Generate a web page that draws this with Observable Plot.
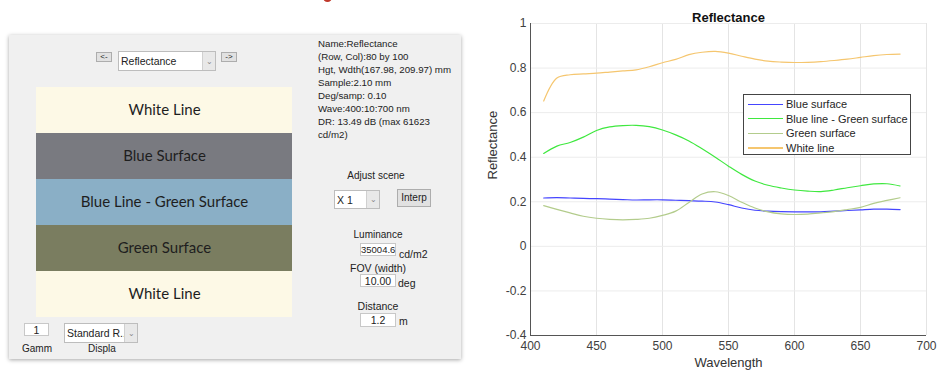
<!DOCTYPE html>
<html>
<head>
<meta charset="utf-8">
<script src="https://cdn.jsdelivr.net/npm/d3@7"></script>
<script src="https://cdn.jsdelivr.net/npm/@observablehq/plot@0.6"></script>
<style>
  html, body { margin: 0; padding: 0; background: #fff; }
  #page { position: relative; width: 938px; height: 377px; overflow: hidden; font-family: "Liberation Sans", Arial, sans-serif; }
  .abs { position: absolute; }
  .win { left: 9px; top: 35px; width: 452px; height: 324px; background: #f0f0f0; box-shadow: 0 1px 4px rgba(0,0,0,0.35); }
  .btn { background: #e1e1e1; border: 1px solid #adadad; box-sizing: border-box; font-size: 10px; color: #222; text-align: center; }
  .inp { background: #fff; border: 1px solid #c8c8c8; box-sizing: border-box; font-size: 10.5px; color: #222; white-space: nowrap; }
  .dd { background: #fff; border: 1px solid #bdbdbd; box-sizing: border-box; font-size: 10.5px; color: #222; overflow: hidden; white-space: nowrap; }
  .dd .arr { position: absolute; right: 0; top: 0; bottom: 0; width: 12px; background: #e8e8e8; border-left: 1px solid #d0d0d0; color: #888; font-size: 8px; text-align: center; }
  .lbl { font-size: 10.5px; color: #222; white-space: nowrap; }
  .info { left: 318px; top: 37px; font-size: 9.7px; line-height: 13px; color: #222; white-space: pre; }
  .legend { left: 743px; top: 94px; width: 168px; height: 61px; background: #fff; border: 1px solid #444; box-sizing: border-box; }
  .legend .row { position: absolute; left: 0; height: 14px; width: 166px; }
  .legend .sw { position: absolute; left: 4px; top: 6.5px; width: 35px; height: 1.4px; }
  .legend .tx { position: absolute; left: 42px; top: 0; font-size: 11px; line-height: 14px; color: #262626; white-space: nowrap; }
</style>
</head>
<body>
<div id="page">
  <div class="abs" style="left:323px;top:-7px;width:9px;height:9px;border-radius:50%;background:#c0392b;"></div>
  <div class="abs win"></div>
  <div class="abs btn" style="left:96px;top:52px;width:16px;height:10px;line-height:7px;font-size:8px;">&lt;-</div>
  <div class="abs dd" style="left:118px;top:51px;width:98px;height:20px;line-height:19px;padding-left:2px;">Reflectance<div class="arr" style="line-height:19px;">&#8964;</div></div>
  <div class="abs btn" style="left:221px;top:52px;width:16px;height:10px;line-height:7px;font-size:8px;">-&gt;</div>
  <div class="abs info" id="info"></div>
  <div class="abs lbl" style="left:346px;top:169px;width:60px;line-height:13px;font-size:10px;text-align:center;">Adjust scene</div>
  <div class="abs dd" style="left:334px;top:190px;width:46px;height:19px;line-height:19px;padding-left:2px;">X 1<div class="arr" style="line-height:18px;">&#8964;</div></div>
  <div class="abs btn" style="left:397px;top:189px;width:34px;height:18px;line-height:16px;">Interp</div>
  <div class="abs lbl" style="left:350px;top:229px;width:56px;line-height:12px;font-size:10px;text-align:center;">Luminance</div>
  <div class="abs inp" style="left:360px;top:243px;width:36px;height:13px;line-height:12px;font-size:9.5px;text-align:center;">35004.6</div>
  <div class="abs lbl" style="left:399px;top:248px;line-height:13px;">cd/m2</div>
  <div class="abs lbl" style="left:350px;top:262px;width:56px;line-height:12px;font-size:10.5px;text-align:center;">FOV (width)</div>
  <div class="abs inp" style="left:360px;top:274px;width:36px;height:13px;line-height:12px;text-align:center;">10.00</div>
  <div class="abs lbl" style="left:398px;top:277px;line-height:13px;">deg</div>
  <div class="abs lbl" style="left:350px;top:300px;width:56px;line-height:13px;font-size:10.5px;text-align:center;">Distance</div>
  <div class="abs inp" style="left:360px;top:313px;width:36px;height:14px;line-height:13px;text-align:center;">1.2</div>
  <div class="abs lbl" style="left:399px;top:315px;line-height:13px;">m</div>
  <div class="abs inp" style="left:24px;top:323px;width:25px;height:13px;line-height:12px;text-align:center;">1</div>
  <div class="abs dd" style="left:64px;top:323px;width:74px;height:20px;line-height:19px;padding-left:2px;">Standard R...<div class="arr" style="line-height:19px;">&#8964;</div></div>
  <div class="abs lbl" style="left:17px;top:343px;width:40px;line-height:12px;font-size:10px;text-align:center;">Gamm</div>
  <div class="abs lbl" style="left:80px;top:343px;width:44px;line-height:12px;font-size:10px;text-align:center;">Displa</div>
  <div class="abs" id="scene" style="left:36px;top:86px;"></div>
  <div class="abs" id="chart" style="left:470px;top:0px;"></div>
  <div class="abs legend" id="legend"></div>
</div>
<script>
// ---- scene description ----
const infoLines = [
  "Name:Reflectance",
  "(Row, Col):80 by 100",
  "Hgt, Wdth(167.98, 209.97) mm",
  "Sample:2.10 mm",
  "Deg/samp: 0.10",
  "Wave:400:10:700 nm",
  "DR: 13.49 dB (max 61623",
  "cd/m2)"
];
const sceneLabels = ["White Line", "Blue Surface", "Blue Line - Green Surface", "Green Surface", "White Line"];
const sceneColors = ["#fdf9e6", "#797a80", "#8aafc6", "#7a7d60", "#fdf9e6"];

// ---- reflectance spectra ----
const wavelengths = [410,420,430,440,450,460,470,480,490,500,510,520,530,540,550,560,570,580,590,600,610,620,630,640,650,660,670,680];
const blueSurface = [0.217,0.219,0.217,0.215,0.214,0.212,0.210,0.208,0.209,0.209,0.207,0.205,0.203,0.199,0.187,0.172,0.162,0.158,0.156,0.155,0.155,0.155,0.158,0.161,0.164,0.167,0.167,0.165];
const blueLineGreenSurface = [0.417,0.450,0.466,0.490,0.520,0.536,0.542,0.543,0.537,0.522,0.500,0.473,0.438,0.400,0.360,0.323,0.293,0.274,0.262,0.253,0.248,0.246,0.253,0.263,0.272,0.280,0.281,0.271];
const greenSurface = [0.183,0.166,0.150,0.135,0.126,0.121,0.119,0.121,0.126,0.139,0.158,0.197,0.235,0.245,0.228,0.198,0.172,0.155,0.146,0.143,0.145,0.150,0.156,0.165,0.175,0.193,0.206,0.218];
const whiteLine = [0.652,0.755,0.770,0.774,0.777,0.782,0.787,0.792,0.806,0.824,0.839,0.860,0.871,0.875,0.867,0.853,0.840,0.831,0.827,0.825,0.826,0.829,0.834,0.840,0.848,0.856,0.861,0.863];
const seriesNames = ["Blue surface", "Blue line - Green surface", "Green surface", "White line"];
const seriesColors = ["#4545ff", "#3fe83f", "#b3cc8c", "#f5c66f"];
const xTicks = [400,450,500,550,600,650,700];
const yTicks = [-0.4,-0.2,0,0.2,0.4,0.6,0.8,1];

document.getElementById("info").textContent = infoLines.join("\n");

// scene image
const sceneRows = sceneLabels.map((label, i) => ({i: String(i), label, color: sceneColors[i]}));
const scene = Plot.plot({
  width: 256, height: 231, margin: 0,
  style: {background: "transparent", overflow: "visible"},
  x: {axis: null},
  y: {axis: null, domain: sceneRows.map(d => d.i), padding: 0},
  color: {type: "identity"},
  marks: [
    Plot.cell(sceneRows, {y: "i", fill: "color"}),
    Plot.text(sceneRows, {y: "i", text: "label", frameAnchor: "middle", fontSize: 15, fill: "#1e1e1e", fontFamily: "Lato, 'Open Sans', sans-serif"})
  ]
});
document.getElementById("scene").appendChild(scene);

// spectra chart
const seriesValues = [blueSurface, blueLineGreenSurface, greenSurface, whiteLine];
const spectra = seriesNames.flatMap((name, s) => wavelengths.map((w, k) => ({series: name, wl: w, v: seriesValues[s][k]})));
const chart = Plot.plot({
  width: 468, height: 377,
  marginLeft: 60, marginRight: 12, marginTop: 23, marginBottom: 42,
  style: {background: "transparent", fontFamily: "'Liberation Sans', Arial, sans-serif", fontSize: "12px", color: "#404040", overflow: "visible"},
  x: {domain: [400, 700], ticks: xTicks, label: null},
  y: {domain: [-0.4, 1], ticks: yTicks, label: null},
  color: {domain: seriesNames, range: seriesColors},
  marks: [
    Plot.gridX(xTicks, {stroke: "#e4e4e4", strokeOpacity: 1}),
    Plot.gridY(yTicks, {stroke: "#ececec", strokeOpacity: 1}),
    Plot.ruleX([400], {stroke: "#555"}),
    Plot.ruleY([-0.4], {stroke: "#555"}),
    Plot.axisX({ticks: xTicks, tickSize: 0, tickPadding: 6, label: null, fontSize: 12}),
    Plot.axisY({ticks: yTicks, tickSize: 0, tickPadding: 4, label: null, fontSize: 12, tickFormat: d => String(+d.toFixed(1))}),
    Plot.line(spectra, {x: "wl", y: "v", z: "series", stroke: "series", strokeWidth: 1.2, curve: "catmull-rom"}),
    Plot.text(["Reflectance"], {text: d => d, frameAnchor: "top", dy: -11, fontWeight: "bold", fontSize: 13, fill: "#111"}),
    Plot.text(["Wavelength"], {text: d => d, frameAnchor: "bottom", dy: 31, fontSize: 13, fill: "#333"}),
    Plot.text(["Reflectance"], {text: d => d, frameAnchor: "left", dx: -38, rotate: -90, fontSize: 13, fill: "#333"})
  ]
});
document.getElementById("chart").appendChild(chart);

// legend
const legend = document.getElementById("legend");
seriesNames.forEach((name, i) => {
  const row = document.createElement("div");
  row.className = "row";
  row.style.top = (2 + i * 14.6) + "px";
  const sw = document.createElement("div");
  sw.className = "sw";
  sw.style.background = seriesColors[i];
  const tx = document.createElement("div");
  tx.className = "tx";
  tx.textContent = name;
  row.appendChild(sw); row.appendChild(tx);
  legend.appendChild(row);
});
</script>
</body>
</html>
